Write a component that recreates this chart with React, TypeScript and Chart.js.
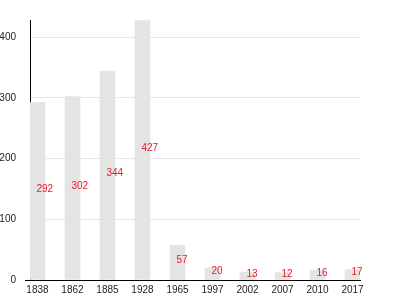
import React, { useEffect, useRef } from "react";
import { Chart, registerables } from "chart.js";

Chart.register(...registerables);

const categories = ["1838", "1862", "1885", "1928", "1965", "1997", "2002", "2007", "2010", "2017"];
const values = [292, 302, 344, 427, 57, 20, 13, 12, 16, 17];
const yTicks = [0, 100, 200, 300, 400];

const FONT = '"Liberation Sans", Arial, sans-serif';

const valueLabels = {
  id: "valueLabels",
  afterDatasetsDraw(chart: any) {
    const ctx = chart.ctx;
    const meta = chart.getDatasetMeta(0);
    ctx.save();
    ctx.fillStyle = "#e8192c";
    ctx.font = `10px ${FONT}`;
    ctx.textAlign = "left";
    ctx.textBaseline = "middle";
    meta.data.forEach((bar: any, i: number) => {
      const y = (bar.y + bar.base) / 2 - 2;
      ctx.fillText(String(values[i]), bar.x - 1, y);
    });
    ctx.restore();
  },
};

export default function App() {
  const ref = useRef<HTMLCanvasElement | null>(null);
  useEffect(() => {
    document.body.style.margin = "0";
    const chart = new Chart(ref.current as HTMLCanvasElement, {
      type: "bar",
      data: {
        datasets: [
          {
            data: values.map((v, i) => ({ x: i, y: v })),
            backgroundColor: "#e4e4e4",
            borderWidth: 0,
            barThickness: 15,
          },
        ],
      },
      options: {
        animation: false,
        responsive: false,
        layout: { padding: { top: 20, right: 40, left: 0, bottom: 0 } },
        plugins: { legend: { display: false }, tooltip: { enabled: false } },
        scales: {
          x: {
            type: "linear",
            offset: false,
            min: -0.214,
            max: 9.214,
            grid: { display: false, drawTicks: false },
            border: { color: "#000", width: 1 },
            afterBuildTicks: (axis: any) => {
              axis.ticks = categories.map((_, i) => ({ value: i }));
            },
            afterFit: (axis: any) => {
              axis.height = 20;
            },
            ticks: {
              autoSkip: false,
              maxRotation: 0,
              padding: 4,
              color: "#222",
              font: { family: FONT, size: 10 },
              callback: (v: any) => categories[Math.round(Number(v))] ?? "",
            },
          },
          y: {
            min: 0,
            max: 428,
            grid: {
              color: "#e6e6e6",
              drawTicks: true,
              tickLength: 5,
              tickColor: (c: any) => (c.tick && c.tick.value === 0 ? "#000" : "rgba(0,0,0,0)"),
            },
            border: { color: "#000", width: 1 },
            afterBuildTicks: (axis: any) => {
              axis.ticks = yTicks.map((v) => ({ value: v }));
            },
            afterFit: (axis: any) => {
              axis.width = 30;
            },
            ticks: {
              padding: 9,
              color: "#222",
              font: { family: FONT, size: 10 },
            },
          },
        },
      },
      plugins: [valueLabels],
    });
    return () => chart.destroy();
  }, []);
  return <canvas ref={ref} width={400} height={300} style={{ display: "block" }} />;
}
